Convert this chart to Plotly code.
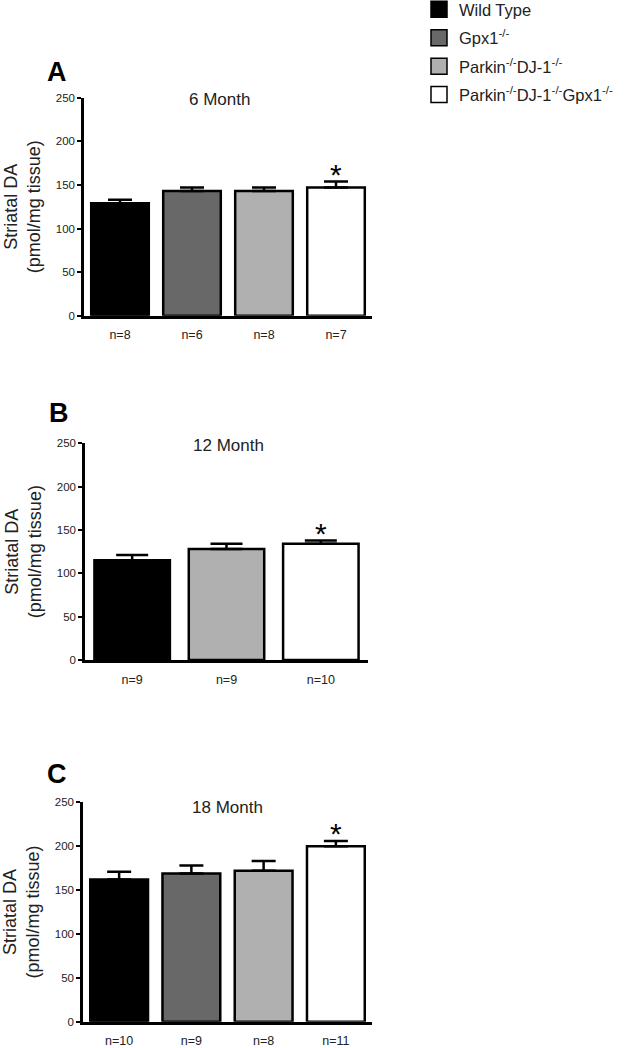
import plotly.graph_objects as go

W, H = 629, 1048

groups = ["Wild Type", "Gpx1<sup>-/-</sup>", "Parkin<sup>-/-</sup>DJ-1<sup>-/-</sup>",
          "Parkin<sup>-/-</sup>DJ-1<sup>-/-</sup>Gpx1<sup>-/-</sup>"]
colors = ["#000000", "#686868", "#b0b0b0", "#ffffff"]

# 6 month
idx_6 = [0, 1, 2, 3]
mean_6 = [129, 143, 143, 147]
sem_6 = [4, 4, 4, 7]
n_6 = ["n=8", "n=6", "n=8", "n=7"]
# 12 month
idx_12 = [0, 2, 3]
mean_12 = [115, 128, 134]
sem_12 = [6, 6, 4]
n_12 = ["n=9", "n=9", "n=10"]
# 18 month
idx_18 = [0, 1, 2, 3]
mean_18 = [162, 169, 172, 200]
sem_18 = [9, 9, 11, 6]
n_18 = ["n=10", "n=9", "n=8", "n=11"]

panels = [
    dict(letter="A", title="6 Month", idx=idx_6, mean=mean_6, sem=sem_6, n=n_6,
         xd=(84, 372), yd=(97.7, 315.7), lpos=(57, 72), tpos=(219, 100), cap=12),
    dict(letter="B", title="12 Month", idx=idx_12, mean=mean_12, sem=sem_12, n=n_12,
         xd=(85, 368), yd=(443.3, 660), lpos=(59, 413), tpos=(228, 445), cap=16),
    dict(letter="C", title="18 Month", idx=idx_18, mean=mean_18, sem=sem_18, n=n_18,
         xd=(83, 372), yd=(802.3, 1021.7), lpos=(57, 774), tpos=(227, 807), cap=12),
]

FONT = "Liberation Sans, Arial, sans-serif"
fig = go.Figure()
annotations = []
layout = {}

for k, p in enumerate(panels):
    ax = "" if k == 0 else str(k + 1)
    cats = [f"c{i}" for i in p["idx"]]
    fig.add_trace(go.Bar(
        x=cats, y=p["mean"],
        marker=dict(color=[colors[i] for i in p["idx"]], line=dict(color="black", width=2.5)),
        error_y=dict(type="data", symmetric=False, array=p["sem"], arrayminus=[0] * len(cats),
                     color="black", thickness=2.5, width=p["cap"]),
        xaxis="x" + ax, yaxis="y" + ax, showlegend=False, hoverinfo="skip",
    ))
    layout["xaxis" + ax] = dict(
        domain=[p["xd"][0] / W, p["xd"][1] / W], anchor="y" + ax, automargin=False,
        type="category", categoryorder="array", categoryarray=cats,
        tickvals=cats, ticktext=p["n"], ticks="", showgrid=False, zeroline=False,
        showline=True, linecolor="black", linewidth=2.5,
        tickfont=dict(family=FONT, size=12.5, color="#222"), ticklabelstandoff=6,
        fixedrange=True,
    )
    layout["yaxis" + ax] = dict(
        domain=[1 - p["yd"][1] / H, 1 - p["yd"][0] / H], anchor="x" + ax, automargin=False,
        range=[0, 250], tickvals=[0, 50, 100, 150, 200, 250],
        ticks="outside", ticklen=4, tickwidth=1.5, tickcolor="black",
        showgrid=False, zeroline=False, showline=True, linecolor="black", linewidth=2.5,
        tickfont=dict(family=FONT, size=11.5, color="#222"),
        title=dict(text="Striatal DA<br>(pmol/mg tissue)", standoff=11,
                   font=dict(family=FONT, size=18, color="#222")),
        fixedrange=True,
    )
    annotations.append(dict(text="<b>" + p["letter"] + "</b>", x=p["lpos"][0] / W, y=1 - p["lpos"][1] / H,
                            xref="paper", yref="paper", showarrow=False,
                            font=dict(family=FONT, size=27, color="black"),
                            xanchor="center", yanchor="middle"))
    annotations.append(dict(text=p["title"], x=p["tpos"][0] / W, y=1 - p["tpos"][1] / H,
                            xref="paper", yref="paper", showarrow=False,
                            font=dict(family=FONT, size=17, color="#222"),
                            xanchor="center", yanchor="middle"))
    # significance star on the last group
    annotations.append(dict(text="*", x=cats[-1], y=p["mean"][-1] + p["sem"][-1],
                            xref="x" + ax, yref="y" + ax, showarrow=False,
                            font=dict(family=FONT, size=30, color="black"),
                            xanchor="center", yanchor="middle", yshift=7))

# legend entries
for g, c in zip(groups, colors):
    fig.add_trace(go.Scatter(
        x=[None], y=[None], mode="markers", name=g, legendgroup=g,
        marker=dict(symbol="square", size=16, color=c, line=dict(color="black", width=1.5)),
        xaxis="x", yaxis="y",
    ))

fig.update_layout(
    template="none",
    width=W, height=H, margin=dict(l=0, r=0, t=0, b=0, autoexpand=False),
    plot_bgcolor="white", paper_bgcolor="white",
    annotations=annotations, hovermode=False,
    legend=dict(x=419 / W, y=1.0 + 8 / H, xanchor="left", yanchor="top",
                font=dict(family=FONT, size=16.5, color="#222"),
                bgcolor="rgba(0,0,0,0)", borderwidth=0, tracegroupgap=4, itemsizing="trace"),
    **layout,
)

fig.write_html("out.html", config={"displayModeBar": False},
               post_script="document.body.style.margin='0';")
